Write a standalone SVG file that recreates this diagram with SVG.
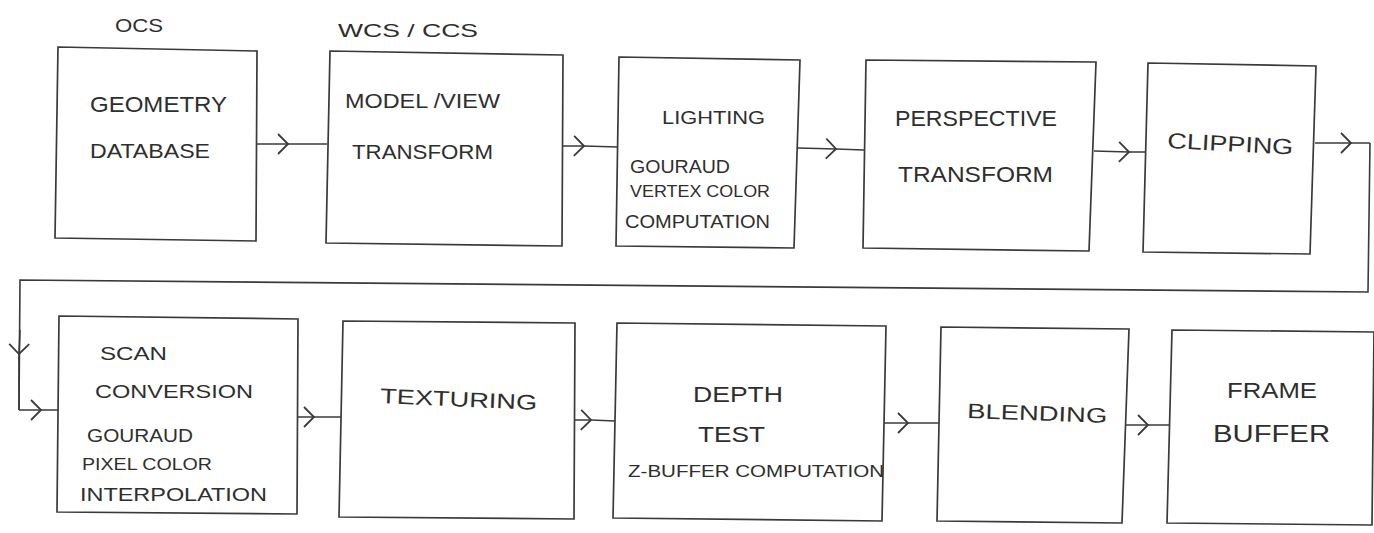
<svg xmlns="http://www.w3.org/2000/svg" width="1374" height="533" viewBox="0 0 1374 533">
  <defs>
    <style>
      .box { fill: none; stroke: #3a3a3a; stroke-width: 1.7; stroke-linejoin: miter; }
      .wire { fill: none; stroke: #3a3a3a; stroke-width: 1.6; }
      .lbl { font-family: "Liberation Sans", "DejaVu Sans", sans-serif; fill: #2e2e2e; font-weight: normal; }
    </style>
    <!-- open chevron used as the arrowhead at the middle vertex of each connector -->
    <marker id="chev" viewBox="-14 -12 18 24" markerWidth="18" markerHeight="24" refX="0" refY="0" orient="auto" markerUnits="userSpaceOnUse">
      <path d="M -10 -10 L 0 0 L -10 10" fill="none" stroke="#3a3a3a" stroke-width="1.8"/>
    </marker>
  </defs>

  <rect x="0" y="0" width="1374" height="533" fill="#ffffff"/>

  <!-- coordinate-system labels -->
  <text class="lbl" x="115" y="32" font-size="18" textLength="48" lengthAdjust="spacingAndGlyphs">OCS</text>
  <text class="lbl" x="338" y="37" font-size="18" textLength="140" lengthAdjust="spacingAndGlyphs">WCS / CCS</text>

  <!-- pipeline stages, top row -->
  <g id="geometry-database">
    <path class="box" d="M 58 47 L 257 51 L 256 241 L 55 238 Z"/>
    <text class="lbl" x="90" y="112" font-size="22" textLength="137" lengthAdjust="spacingAndGlyphs">GEOMETRY</text>
    <text class="lbl" x="90" y="158" font-size="21" textLength="120" lengthAdjust="spacingAndGlyphs">DATABASE</text>
  </g>
  <g id="model-view-transform">
    <path class="box" d="M 330 51 L 563 55 L 562 246 L 326 243 Z"/>
    <text class="lbl" x="345" y="108" font-size="20" textLength="155" lengthAdjust="spacingAndGlyphs">MODEL /VIEW</text>
    <text class="lbl" x="352" y="159" font-size="20" textLength="141" lengthAdjust="spacingAndGlyphs">TRANSFORM</text>
  </g>
  <g id="lighting">
    <path class="box" d="M 619 57 L 800 60 L 794 248 L 616 246 Z"/>
    <text class="lbl" x="662" y="124" font-size="19" textLength="103" lengthAdjust="spacingAndGlyphs">LIGHTING</text>
    <text class="lbl" x="630" y="173" font-size="18" textLength="100" lengthAdjust="spacingAndGlyphs">GOURAUD</text>
    <text class="lbl" x="630" y="197" font-size="16" textLength="140" lengthAdjust="spacingAndGlyphs">VERTEX COLOR</text>
    <text class="lbl" x="625" y="228" font-size="18" textLength="145" lengthAdjust="spacingAndGlyphs">COMPUTATION</text>
  </g>
  <g id="perspective-transform">
    <path class="box" d="M 866 60 L 1096 62 L 1089 251 L 863 248 Z"/>
    <text class="lbl" x="895" y="126" font-size="22" textLength="162" lengthAdjust="spacingAndGlyphs">PERSPECTIVE</text>
    <text class="lbl" x="898" y="182" font-size="22" textLength="155" lengthAdjust="spacingAndGlyphs">TRANSFORM</text>
  </g>
  <g id="clipping">
    <path class="box" d="M 1148 63 L 1316 66 L 1310 254 L 1143 252 Z"/>
    <text class="lbl" x="1167" y="148" font-size="22" textLength="126" lengthAdjust="spacingAndGlyphs" transform="rotate(3 1167 148)">CLIPPING</text>
  </g>

  <!-- pipeline stages, bottom row -->
  <g id="scan-conversion">
    <path class="box" d="M 59 316 L 298 319 L 297 514 L 57 512 Z"/>
    <text class="lbl" x="100" y="360" font-size="18" textLength="67" lengthAdjust="spacingAndGlyphs">SCAN</text>
    <text class="lbl" x="95" y="398" font-size="19" textLength="158" lengthAdjust="spacingAndGlyphs">CONVERSION</text>
    <text class="lbl" x="87" y="442" font-size="18" textLength="106" lengthAdjust="spacingAndGlyphs">GOURAUD</text>
    <text class="lbl" x="82" y="470" font-size="16" textLength="130" lengthAdjust="spacingAndGlyphs">PIXEL COLOR</text>
    <text class="lbl" x="80" y="501" font-size="19" textLength="187" lengthAdjust="spacingAndGlyphs">INTERPOLATION</text>
  </g>
  <g id="texturing">
    <path class="box" d="M 343 321 L 575 323 L 574 519 L 339 517 Z"/>
    <text class="lbl" x="380" y="403" font-size="21" textLength="157" lengthAdjust="spacingAndGlyphs" transform="rotate(2.5 380 403)">TEXTURING</text>
  </g>
  <g id="depth-test">
    <path class="box" d="M 617 323 L 886 326 L 882 521 L 613 518 Z"/>
    <text class="lbl" x="693" y="402" font-size="22" textLength="90" lengthAdjust="spacingAndGlyphs">DEPTH</text>
    <text class="lbl" x="698" y="442" font-size="22" textLength="67" lengthAdjust="spacingAndGlyphs">TEST</text>
    <text class="lbl" x="628" y="477" font-size="16" textLength="256" lengthAdjust="spacingAndGlyphs">Z-BUFFER COMPUTATION</text>
  </g>
  <g id="blending">
    <path class="box" d="M 941 327 L 1129 329 L 1122 523 L 937 521 Z"/>
    <text class="lbl" x="967" y="418" font-size="21" textLength="140" lengthAdjust="spacingAndGlyphs" transform="rotate(2 967 418)">BLENDING</text>
  </g>
  <g id="frame-buffer">
    <path class="box" d="M 1172 330 L 1374 332 L 1372 525 L 1167 523 Z"/>
    <text class="lbl" x="1227" y="398" font-size="22" textLength="90" lengthAdjust="spacingAndGlyphs">FRAME</text>
    <text class="lbl" x="1213" y="442" font-size="24" textLength="117" lengthAdjust="spacingAndGlyphs">BUFFER</text>
  </g>

  <!-- connectors: each has its arrowhead at the middle vertex -->
  <g id="connectors">
    <polyline class="wire" points="257,144 288,144 327,144" marker-mid="url(#chev)"/>
    <polyline class="wire" points="563,146 584,146 618,147" marker-mid="url(#chev)"/>
    <polyline class="wire" points="798,148 836,149 864,150" marker-mid="url(#chev)"/>
    <polyline class="wire" points="1094,151 1129,152 1146,152" marker-mid="url(#chev)"/>
    <!-- wrap-around from clipping down to scan conversion -->
    <polyline class="wire" points="1315,143 1351,143 1370,143" marker-mid="url(#chev)"/>
    <polyline class="wire" points="1370,143 1368,292 20,280 19,410"/>
    <polyline class="wire" points="20,330 19,354 19,410" marker-mid="url(#chev)"/>
    <polyline class="wire" points="19,410 41,410 58,410" marker-mid="url(#chev)"/>
    <polyline class="wire" points="298,417 314,417 341,417" marker-mid="url(#chev)"/>
    <polyline class="wire" points="575,420 591,420 615,421" marker-mid="url(#chev)"/>
    <polyline class="wire" points="884,423 908,423 939,423" marker-mid="url(#chev)"/>
    <polyline class="wire" points="1126,425 1148,425 1169,425" marker-mid="url(#chev)"/>
  </g>
</svg>
